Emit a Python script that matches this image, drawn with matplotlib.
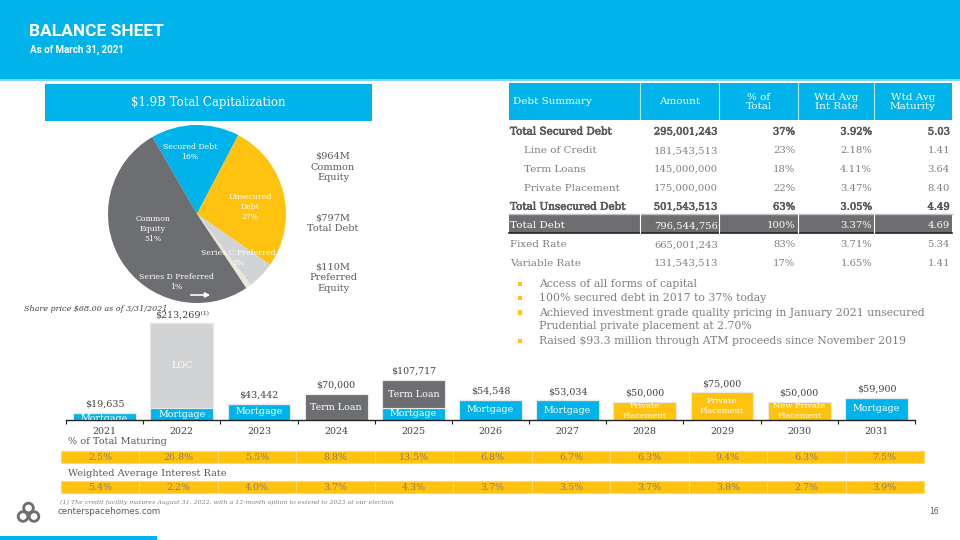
import matplotlib
matplotlib.use('Agg')
import matplotlib.pyplot as plt
from matplotlib.patches import Rectangle, Circle
import matplotlib.patheffects as pe
import numpy as np

W, H = 960, 540
BLUE = '#00B3EB'
YELLOW = '#FFC20E'
DGREY = '#6D6E71'
LGREY = '#D1D3D4'
CREAM = '#ECE6D4'
TXT = '#595959'
TXT2 = '#7F7F7F'
DARK = '#404040'
SERIF = ['DejaVu Serif', 'DejaVu Sans']

# ---------------- data ----------------
pie_labels = ['Secured Debt\n16%', 'Unsecured\nDebt\n27%', 'Series C Preferred\n5%',
              'Series D Preferred\n1%', 'Common\nEquity\n51%']
pie_pcts = [16, 27, 5, 1, 51]
pie_colors = [BLUE, YELLOW, LGREY, CREAM, DGREY]

cap_notes = ['$964M\nCommon\nEquity', '$797M\nTotal Debt', '$110M\nPreferred\nEquity']

table_header = ['Debt Summary', 'Amount', '% of\nTotal', 'Wtd Avg\nInt Rate', 'Wtd Avg\nMaturity']
table_rows = ['Total Secured Debt', 'Line of Credit', 'Term Loans', 'Private Placement',
              'Total Unsecured Debt', 'Total Debt', 'Fixed Rate', 'Variable Rate']
table_amount = ['295,001,243', '181,543,513', '145,000,000', '175,000,000',
                '501,543,513', '796,544,756', '665,001,243', '131,543,513']
table_pct = ['37%', '23%', '18%', '22%', '63%', '100%', '83%', '17%']
table_rate = ['3.92%', '2.18%', '4.11%', '3.47%', '3.05%', '3.37%', '3.71%', '1.65%']
table_mat = ['5.03', '1.41', '3.64', '8.40', '4.49', '4.69', '5.34', '1.41']
row_style = ['bold', 'indent', 'indent', 'indent', 'bold', 'total', 'plain', 'plain']

bullets = ['Access of all forms of capital',
           '100% secured debt in 2017 to 37% today',
           'Achieved investment grade quality pricing in January 2021 unsecured\nPrudential private placement at 2.70%',
           'Raised $93.3 million through ATM proceeds since November 2019']

years = ['2021', '2022', '2023', '2024', '2025', '2026', '2027', '2028', '2029', '2030', '2031']
# maturities in $ thousands (segment heights as drawn)
mortgage = [19.6, 31.7, 43.4, 0, 32.7, 54.5, 53.0, 0, 0, 0, 59.9]
loc_seg = [0, 230, 0, 0, 0, 0, 0, 0, 0, 0, 0]
term_loan = [0, 0, 0, 70, 75, 0, 0, 0, 0, 0, 0]
private_pl = [0, 0, 0, 0, 0, 0, 0, 50, 75, 50, 0]
pp_names = ['', '', '', '', '', '', '', 'Private\nPlacement', 'Private\nPlacement',
            'New Private\nPlacement', '']
total_labels = ['$19,635', '$213,269\u207d\u00b9\u207e', '$43,442', '$70,000', '$107,717', '$54,548',
                '$53,034', '$50,000', '$75,000', '$50,000', '$59,900']
pct_maturing = ['2.5%', '26.8%', '5.5%', '8.8%', '13.5%', '6.8%', '6.7%', '6.3%', '9.4%', '6.3%', '7.5%']
wtd_rate = ['5.4%', '2.2%', '4.0%', '3.7%', '4.3%', '3.7%', '3.5%', '3.7%', '3.8%', '2.7%', '3.9%']

# ---------------- figure ----------------
fig = plt.figure(figsize=(9.6, 5.4), dpi=100)
fig.patch.set_facecolor('white')


def fx(x):
    return x / W


def fy(y):
    return 1 - y / H


# overlay axes in pixel coordinates (y down)
ax0 = fig.add_axes([0, 0, 1, 1], zorder=10)
ax0.set_xlim(0, W)
ax0.set_ylim(H, 0)
ax0.axis('off')
ax0.patch.set_visible(False)

# header
ax0.add_patch(Rectangle((0, 0), W, 79, color=BLUE, lw=0))
ax0.add_patch(Rectangle((0, 79), W, 1.5, color='#7FD6F4', lw=0))
ax0.text(29, 32, 'BALANCE SHEET', color='white', fontsize=12.5, fontweight='bold',
         fontfamily='Roboto', va='center', ha='left')
ax0.text(30, 50, 'As of March 31, 2021', color='white', fontsize=7, fontweight='bold',
         fontfamily='Roboto', va='center', ha='left')

# capitalization box
ax0.add_patch(Rectangle((45, 84), 327, 37, color=BLUE, lw=0))
ax0.text(208.5, 102.5, '$1.9B Total Capitalization', color='white', fontsize=8.5,
         fontfamily=SERIF, ha='center', va='center')

# pie
ax_p = fig.add_axes([fx(108), fy(303), fx(178), 178 / H])
ax_p.pie(pie_pcts, colors=pie_colors, startangle=120, counterclock=False, radius=1,
         wedgeprops=dict(linewidth=0))
ax_p.set_xlim(-1.0, 1.0)
ax_p.set_ylim(-1.0, 1.0)
pie_label_pos = [(190, 152), (250, 207), (238, 258), (176, 282), (153, 229)]
for lab, (x, y) in zip(pie_labels, pie_label_pos):
    ax0.text(x, y, lab, color='white', fontsize=5.6, fontfamily=SERIF, ha='center',
             va='center', linespacing=1.4)
ax0.annotate('', xy=(213, 295), xytext=(188, 295),
             arrowprops=dict(arrowstyle='-|>', color='white', lw=1.2, mutation_scale=7))

for note, y in zip(cap_notes, [167, 223, 278]):
    ax0.text(333, y, note, color=TXT, fontsize=7, fontfamily=SERIF, ha='center',
             va='center', linespacing=1.25)

ax0.text(24, 309, 'Share price $68.00 as of 3/31/2021', color=DARK, fontsize=5.8,
         fontstyle='italic', fontfamily=SERIF, ha='left', va='center')

# ---------------- table ----------------
col_edges = [509, 640, 719, 798, 874, 952]
ax0.add_patch(Rectangle((509, 83), 443, 37, color=BLUE, lw=0))
for x in col_edges[1:-1]:
    ax0.plot([x, x], [83, 120], color='white', lw=0.8, alpha=0.7)
ax0.text(513, 102, table_header[0], color='white', fontsize=7.5, fontfamily=SERIF,
         ha='left', va='center')
for j in range(1, 5):
    cx = (col_edges[j] + col_edges[j + 1]) / 2
    ax0.text(cx, 102, table_header[j], color='white', fontsize=7.5, fontfamily=SERIF,
             ha='center', va='center', linespacing=1.1)

row_y0, row_dy = 132, 18.8
right_x = [718, 795, 872, 950]
for i, name in enumerate(table_rows):
    y = row_y0 + i * row_dy
    st = row_style[i]
    col = TXT2
    effects = None
    xl = 510
    if st == 'bold':
        col = TXT
        effects = [pe.withStroke(linewidth=0.45, foreground=TXT)]
    elif st == 'indent':
        xl = 524
    elif st == 'total':
        col = 'white'
        ax0.add_patch(Rectangle((509, y - 12), 443, 19, color=DGREY, lw=0))
        ax0.plot([509, 952], [y - 12, y - 12], color='#BFBFBF', lw=1)
        ax0.plot([509, 952], [y + 7, y + 7], color='#222222', lw=1.2)
        for x in col_edges[1:-1]:
            ax0.plot([x, x], [y - 12, y + 7], color='white', lw=0.8)
    t = ax0.text(xl, y, name, color=col, fontsize=7.5, fontfamily=SERIF,
                 ha='left', va='center')
    if effects:
        t.set_path_effects(effects)
    for xr, val in zip(right_x, [table_amount[i], table_pct[i], table_rate[i], table_mat[i]]):
        t = ax0.text(xr, y, val, color=col, fontsize=7.2, fontfamily=SERIF,
                     ha='right', va='center')
        if effects:
            t.set_path_effects(effects)

# bullets
by = 284
line_h = 14.3
for b in bullets:
    n = b.count('\n') + 1
    ax0.add_patch(Rectangle((517.5, by - 2.5), 4.5, 4.5, color=YELLOW, lw=0))
    ax0.text(539, by + (n - 1) * line_h / 2, b, color=TXT2, fontsize=7.8, fontfamily=SERIF,
             ha='left', va='center', linespacing=1.32)
    by += line_h * n

# ---------------- bar chart ----------------
px_per_k = 0.37
ax_b = fig.add_axes([fx(66), fy(420), fx(849), 130 / H])
ax_b.set_xlim(-0.5, 10.5)
ax_b.set_ylim(0, 130 / px_per_k)
xs = np.arange(len(years))
bw = 0.815
ek = dict(edgecolor='#E8E8E8', linewidth=0.8)
mort = np.array(mortgage)
locs = np.array(loc_seg)
tl = np.array(term_loan)
pp = np.array(private_pl)
ax_b.bar(xs, mort, bw, color=BLUE, **ek)
ax_b.bar(xs, locs, bw, bottom=mort, color=LGREY, **ek)
ax_b.bar(xs, tl, bw, bottom=mort + locs, color=DGREY, **ek)
ax_b.bar(xs, pp, bw, bottom=mort + locs + tl, color=YELLOW, **ek)
tot = mort + locs + tl + pp
for i in xs:
    segs = [(mort[i], 0, 'Mortgage'), (locs[i], mort[i], 'LOC'),
            (tl[i], mort[i] + locs[i], 'Term Loan'), (pp[i], mort[i] + locs[i] + tl[i], pp_names[i])]
    for h, b0, name in segs:
        if h > 0:
            ax_b.text(i, b0 + h / 2 - (6 if name == 'Mortgage' and h < 25 else 0), name,
                      color='white', fontsize=6.8 if 'Place' not in name else 6,
                      fontfamily=SERIF, ha='center', va='center', clip_on=True,
                      linespacing=1.3)
    ax_b.annotate(total_labels[i], (i, tot[i]), xytext=(0, 3), textcoords='offset points',
                  ha='center', va='bottom', fontsize=6.8, color=DARK, fontfamily=SERIF)

for s in ['top', 'right', 'left']:
    ax_b.spines[s].set_visible(False)
ax_b.spines['bottom'].set_color('#222222')
ax_b.spines['bottom'].set_linewidth(1)
ax_b.set_yticks([])
ax_b.set_xticks(np.arange(-0.5, 11, 1))
ax_b.set_xticklabels([])
ax_b.tick_params(axis='x', which='major', length=3, color='#222222', width=0.8)
ax_b.set_xticks(xs, minor=True)
ax_b.set_xticklabels(years, minor=True, fontsize=6.8, color=DARK, fontfamily=SERIF)
ax_b.tick_params(axis='x', which='minor', length=0, pad=5)
ax_b.patch.set_visible(False)

# ---------------- bottom rows ----------------
ax0.text(68, 442, '% of Total Maturing', color=TXT, fontsize=7, fontfamily=SERIF,
         ha='left', va='center')
ax0.text(68, 473, 'Weighted Average Interest Rate', color=TXT, fontsize=7, fontfamily=SERIF,
         ha='left', va='center')
cx0, cx1 = 61, 924
cw = (cx1 - cx0) / len(years)
for (ytop, vals) in [(451, pct_maturing), (481, wtd_rate)]:
    for k, v in enumerate(vals):
        ax0.add_patch(Rectangle((cx0 + k * cw, ytop), cw, 12, facecolor=YELLOW,
                                edgecolor='#FFD966', lw=0.8))
        ax0.text(cx0 + (k + 0.5) * cw, ytop + 6.2, v, color=TXT2, fontsize=6.8,
                 fontfamily=SERIF, ha='center', va='center')

# footer
ax0.text(60, 502, '(1) The credit facility matures August 31, 2022, with a 12-month option to extend to 2023 at our election',
         color=TXT2, fontsize=4.5, fontstyle='italic', fontfamily=SERIF, ha='left', va='center')
ax0.text(57, 511, 'centerspacehomes.com', color=TXT, fontsize=6.2, fontfamily='DejaVu Sans',
         ha='left', va='center')
ax0.text(929, 511, '16', color=TXT, fontsize=5.5, fontfamily='DejaVu Sans', ha='left', va='center')
for (cx, cy) in [(28.5, 508), (23, 516.5), (34, 516.5)]:
    ax0.add_patch(Circle((cx, cy), 4.8, fill=False, edgecolor=DGREY, lw=2))
ax0.add_patch(Rectangle((0, 536), 157, 4, color=BLUE, lw=0))

fig.savefig('out.png', dpi=100, facecolor='white')
